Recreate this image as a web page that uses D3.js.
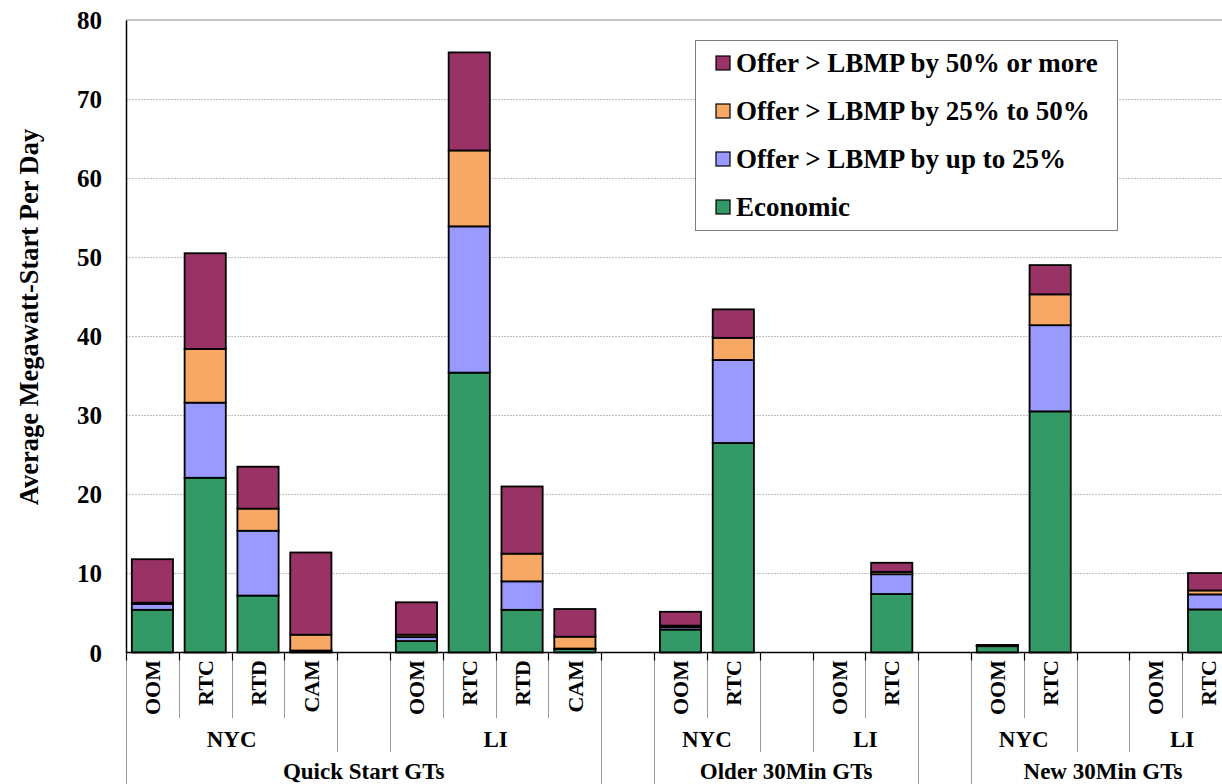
<!DOCTYPE html>
<html>
<head>
<meta charset="utf-8">
<script src="https://cdn.jsdelivr.net/npm/d3@7"></script>
<style>
  html, body { margin: 0; padding: 0; background: #fff; overflow: hidden; }
  svg { display: block; }
  text { font-family: "Liberation Serif", "Times New Roman", serif; font-weight: bold; fill: #000; }
</style>
</head>
<body>
<svg id="chart" width="1222" height="784"></svg>
<script>
// Unit types, zones and commitment sources that make up the category axis
const unitTypes = ["Quick Start GTs", "Older 30Min GTs", "New 30Min GTs"];
const zones = ["NYC", "LI"];
const unitSources = [["OOM", "RTC", "RTD", "CAM"], ["OOM", "RTC"], ["OOM", "RTC"]];

// Series, in bar order: QS NYC (OOM,RTC,RTD,CAM), QS LI (OOM,RTC,RTD,CAM),
// Older NYC (OOM,RTC), Older LI (OOM,RTC), New NYC (OOM,RTC), New LI (OOM,RTC)
const seriesNames = ["Economic", "Offer > LBMP by up to 25%", "Offer > LBMP by 25% to 50%", "Offer > LBMP by 50% or more"];
const economic = [5.4, 22.1, 7.2, 0.2, 1.45, 35.4, 5.4, 0.45, 2.9, 26.5, 0, 7.4, 0.8, 30.5, 0, 5.45];
const upTo25   = [0.75, 9.5, 8.2, 0.05, 0.5, 18.5, 3.6, 0.05, 0.3, 10.5, 0, 2.5, 0.05, 10.9, 0, 1.9];
const from25to50 = [0.15, 6.8, 2.8, 2.0, 0.3, 9.6, 3.5, 1.5, 0.2, 2.8, 0, 0.3, 0.05, 3.9, 0, 0.5];
const over50   = [5.5, 12.1, 5.3, 10.4, 4.1, 12.4, 8.5, 3.5, 1.75, 3.6, 0, 1.15, 0.05, 3.7, 0, 2.2];
const seriesColors = ["#339966", "#9999FF", "#F7A864", "#993366"];

const yTicks = [0, 10, 20, 30, 40, 50, 60, 70, 80];

const svg = d3.select("#chart");

// Build the slot sequence: bar slots plus empty spacer slots between zones and unit types
const slots = [];
let barIdx = 0;
unitTypes.forEach((u, ui) => {
  if (ui > 0) slots.push({ kind: "unitGap", unit: null, zone: null, source: "" });
  zones.forEach((z, zi) => {
    if (zi > 0) slots.push({ kind: "zoneGap", unit: u, zone: null, source: "" });
    unitSources[ui].forEach(s => {
      slots.push({ kind: "bar", unit: u, zone: z, source: s, bar: barIdx++ });
    });
  });
});
slots.forEach((s, i) => s.key = "s" + i);

const plotLeft = 126, plotRight = 1235, plotTop = 20, plotBottom = 652.5;

const x = d3.scaleBand().domain(slots.map(s => s.key)).range([plotLeft, plotRight])
  .paddingInner(0.22).paddingOuter(0.11);
const step = x.step();
const slotLeft = i => plotLeft + i * step;

const y = d3.scaleLinear().domain([0, 80]).range([plotBottom, plotTop]);

// Gridlines and plot border
svg.append("g").selectAll("line").data(yTicks.filter(t => t > 0 && t < 80)).join("line")
  .attr("x1", plotLeft).attr("x2", plotRight)
  .attr("y1", d => Math.round(y(d)) + 0.5).attr("y2", d => Math.round(y(d)) + 0.5)
  .attr("stroke", "#bdbdbd").attr("stroke-width", 1).attr("stroke-dasharray", "2,1");
svg.append("line").attr("x1", plotLeft).attr("x2", plotRight)
  .attr("y1", y(80)).attr("y2", y(80)).attr("stroke", "#8a8a8a").attr("stroke-width", 1.2);

// Stacked bars
const rows = slots.filter(s => s.kind === "bar").map(s => ({
  key: s.key,
  economic: economic[s.bar], upTo25: upTo25[s.bar], from25to50: from25to50[s.bar], over50: over50[s.bar]
}));
const stack = d3.stack().keys(["economic", "upTo25", "from25to50", "over50"]);
const layers = stack(rows);

svg.append("g").selectAll("g").data(layers).join("g")
  .attr("fill", (d, i) => seriesColors[i])
  .selectAll("rect").data(d => d.filter(p => p[1] - p[0] > 0)).join("rect")
  .attr("x", d => x(d.data.key))
  .attr("width", x.bandwidth())
  .attr("y", d => y(d[1]))
  .attr("height", d => y(d[0]) - y(d[1]))
  .attr("stroke", "#000").attr("stroke-width", 1.8);

// Y axis
const yAxis = d3.axisLeft(y).tickValues(yTicks).tickSize(0).tickPadding(24);
const gy = svg.append("g").attr("transform", `translate(${plotLeft},0)`).call(yAxis);
gy.select(".domain").attr("stroke", "#000").attr("stroke-width", 1.5);
gy.selectAll("text").style("font-size", "25px").attr("dy", "0.34em");

// X axis baseline
svg.append("line").attr("x1", plotLeft).attr("x2", plotRight).attr("y1", plotBottom).attr("y2", plotBottom)
  .attr("stroke", "#000").attr("stroke-width", 1.6);

// Category separators at three levels
const catEnd = 718, zoneEnd = 752, unitEnd = 784;
const sepG = svg.append("g");
for (let i = 0; i <= slots.length; i++) {
  const prev = slots[i - 1], cur = slots[i];
  let end;
  if (!prev || !cur || prev.kind === "unitGap" || cur.kind === "unitGap") end = unitEnd;
  else if (prev.kind === "zoneGap" || cur.kind === "zoneGap" || prev.zone !== cur.zone) end = zoneEnd;
  else end = catEnd;
  const xx = Math.round(slotLeft(i)) + 0.5;
  sepG.append("line").attr("x1", xx).attr("x2", xx).attr("y1", plotBottom).attr("y2", end)
    .attr("stroke", "#9a9a9a").attr("stroke-width", 1);
  sepG.append("line").attr("x1", xx).attr("x2", xx).attr("y1", plotBottom).attr("y2", plotBottom + 8)
    .attr("stroke", "#000").attr("stroke-width", 1.2);
}

// Source labels (rotated)
svg.append("g").selectAll("text").data(slots.filter(s => s.kind === "bar")).join("text")
  .attr("transform", d => `translate(${x(d.key) + x.bandwidth() / 2},660) rotate(-90)`)
  .attr("text-anchor", "end").attr("dy", "0.35em")
  .style("font-size", "22px")
  .text(d => d.source);

// Zone labels
const zoneGroups = [];
slots.forEach((s, i) => {
  if (s.kind !== "bar") return;
  const last = zoneGroups[zoneGroups.length - 1];
  if (last && last.unit === s.unit && last.zone === s.zone && last.end === i - 1) last.end = i;
  else zoneGroups.push({ unit: s.unit, zone: s.zone, start: i, end: i });
});
svg.append("g").selectAll("text").data(zoneGroups).join("text")
  .attr("x", d => (slotLeft(d.start) + slotLeft(d.end + 1)) / 2)
  .attr("y", 747).attr("text-anchor", "middle")
  .style("font-size", "23px").text(d => d.zone);

// Unit type labels
const unitGroups = unitTypes.map(u => {
  const idx = slots.map((s, i) => s.unit === u ? i : -1).filter(i => i >= 0);
  return { unit: u, start: d3.min(idx), end: d3.max(idx) };
});
svg.append("g").selectAll("text").data(unitGroups).join("text")
  .attr("x", d => (slotLeft(d.start) + slotLeft(d.end + 1)) / 2)
  .attr("y", 779).attr("text-anchor", "middle")
  .style("font-size", "23px").text(d => d.unit);

// Y axis title
svg.append("text")
  .attr("transform", "translate(29,317) rotate(-90)")
  .attr("text-anchor", "middle").attr("dy", "0.35em")
  .style("font-size", "26.5px")
  .text("Average Megawatt-Start Per Day");

// Legend (top series first)
const lg = svg.append("g");
lg.append("rect").attr("x", 695.5).attr("y", 40.5).attr("width", 422).attr("height", 190)
  .attr("fill", "#fff").attr("stroke", "#7f7f7f").attr("stroke-width", 1);
const legendOrder = [3, 2, 1, 0];
const li = lg.selectAll("g.item").data(legendOrder).join("g").attr("class", "item")
  .attr("transform", (d, i) => `translate(716,${63 + i * 48})`);
li.append("rect").attr("x", 0).attr("y", -7).attr("width", 14).attr("height", 14)
  .attr("fill", d => seriesColors[d]).attr("stroke", "#000").attr("stroke-width", 1.2);
li.append("text").attr("x", 20).attr("y", 0).attr("dy", "0.35em")
  .style("font-size", "27px").text(d => seriesNames[d]);
</script>
</body>
</html>
